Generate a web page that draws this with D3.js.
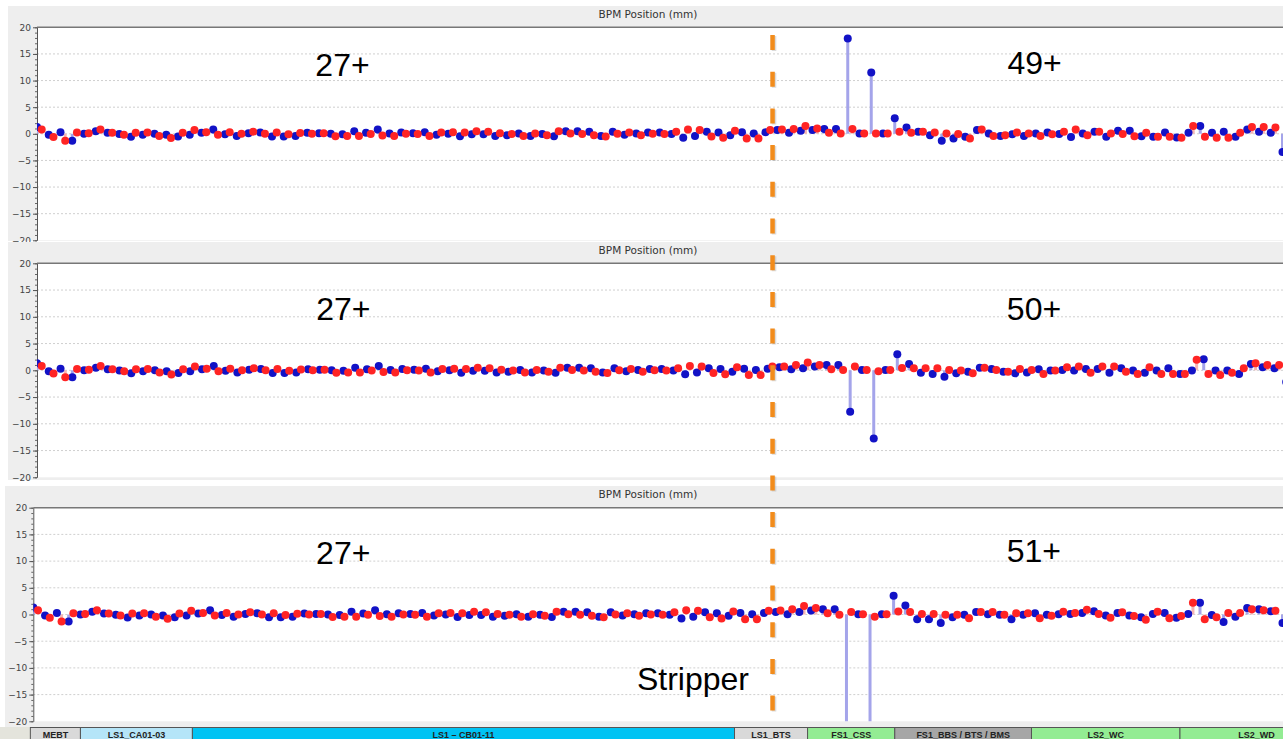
<!DOCTYPE html>
<html>
<head>
<meta charset="utf-8">
<script src="https://cdn.jsdelivr.net/npm/d3@7"></script>
<style>
  body { margin: 0; background: #fff; overflow: hidden; }
  svg { display: block; }
</style>
</head>
<body>
<div id="chart"></div>
<script>
// BPM readings, horizontal (blue) and vertical (red), in mm
// upstream of the stripper the beam is the same 27+ in all three views
const upstreamH = [1.3, -0.2, 0.3, -1.3, 0, 0.5, 0.2, -0.05, -0.55, -0.2, 0, -0.2, -0.5, -0.2, 0.2, 0.8, -0.1, -0.4, 0.1, 0.25,
  -0.5, -0.5, -0.4, 0.2, 0.1, 0, -0.1, 0.5, 0.2, 0.8, 0.05, 0.25, 0.1, 0.3, -0.2, 0, -0.45, -0.1, -0.1, -0.4,
  -0.25, 0.05, -0.4, -0.05, -0.45, 0.5, 0.5, 0.4, -0.4, 0.4, -0.2, 0.05, 0.25, 0.25, -0.05, -0.75, -0.4, 0.4, 0.25, -0.25,
  0.3, 0.05, 0.3];
const upstreamV = [0.8, -0.6, -1.3, 0.25, 0.1, 0.8, 0.2, -0.2, 0.2, 0.25, -0.4, -0.8, 0.2, 0.7, 0.3, -0.2, 0.3, 0, 0.4, 0,
  0.25, -0.1, 0.15, 0, 0.1, -0.45, -0.4, -0.4, -0.05, -0.3, -0.4, 0, -0.05, -0.4, 0.25, 0.3, 0.25, 0.5, 0.4, 0.1,
  -0.05, -0.4, 0.05, -0.25, 0.5, 0.05, -0.05, -0.25, -0.5, 0, 0.25, -0.25, 0, -0.05, 0.4, 0.8, 0.7, -0.5, -0.75, 0.55,
  -0.9, -0.9, 0.7];

// downstream of the stripper, one set per selected charge state
const q49H = [0.7, 0.2, 0.55, 0.7, 0.9, 0.9, 17.9, 0.05, 11.5, 0.05, 2.9, 1.2, 0.4, -0.25, -1.3, -0.9, -0.55, 0.7, 0.05, -0.4,
  -0.1, -0.4, 0.05, 0.25, -0.05, -0.6, 0.05, 0.4, -0.55, 0.55, 0.55, -0.45, -0.55, 0.25, -0.7, 0.2, 1.45, 0.2, 0.4, -0.55,
  0.8, 0.4, 0.2, -3.4];
const q49V = [0.8, 0.9, 1.45, 1.0, 0.2, 0.05, 0.9, 0.05, 0.05, 0.05, 0.4, 0.2, 0.4, 0.25, 0.05, -0.05, -0.9, 0.8, -0.4, -0.25,
  0.25, 0.05, -0.4, -0.1, 0.4, 0.8, -0.25, 0.4, 0.05, -0.05, -0.45, 0.2, -0.55, -0.55, -0.75, 1.45, -0.55, -0.75, -0.75, 0.2,
  1.3, 1.3, 1.2, 0.9];
const q50H = [0.55, 0.2, 0.4, 0.7, 1.0, 1.0, -7.75, 0.05, -12.75, 0.05, 3.0, 1.2, -0.45, -0.7, -1.2, -0.55, -0.25, 0.5, 0.25, -0.25,
  -0.55, -0.4, 0.2, -0.05, 0.05, -0.05, 0.25, 0.25, -0.45, 0.4, -0.05, -0.45, -0.05, 0.4, -0.7, -0.05, 2.05, -0.05, -0.05, -0.7,
  1.2, 0.55, 0.4, -2.2];
const q50V = [0.7, 1.0, 1.45, 1.0, 0.2, 0.05, 0.7, 0.05, -0.2, 0.05, 0.45, 0.4, 0.4, 0.4, 0.05, -0.05, -0.55, 0.5, 0.05, -0.25,
  0.25, 0.05, -0.7, -0.05, 0.55, 0.7, -0.45, 0.7, 0.7, -0.25, -0.7, 0.55, -0.7, -0.7, -0.7, 1.95, -0.7, -0.9, -0.45, 0.4,
  1.3, 1.0, 1.0, 0.5];
const q51H = [0.45, 0.05, 0.45, 0.75, 1.0, 1.0, -30, 0.05, -30, 0.05, 3.5, 1.7, -0.9, -0.9, -1.6, -0.5, -0.05, 0.45, 0.05, -0.05,
  -0.9, -0.05, 0.25, -0.05, 0.05, 0.1, 0.3, 0.6, -0.2, 0.3, -0.2, -0.5, 0.1, 0.3, -0.6, 0.1, 2.2, -0.1, -1.4, -0.4,
  1.2, 1.0, 0.6, -1.6];
const q51V = [0.75, 1.0, 1.6, 1.2, 0.25, -0.05, 0.45, 0.05, -0.4, 0.05, 0.55, 0.45, 0.1, 0.1, -0.05, -0.05, -0.7, 0.45, 0.45, -0.05,
  0.25, 0.25, -0.7, -0.25, 0.5, 0.3, 0.9, 0.1, -0.6, 0.4, -0.3, -1.0, 0.5, -0.7, -0.3, 2.2, -0.9, -0.5, 0.3, 0.3,
  1.0, 0.8, 0.7, 0.5];

const chargeStates = ['49+', '50+', '51+'];
const upstreamCharge = '27+';
const stripperIndex = 62.6;

const sections = ['MEBT', 'LS1_CA01-03', 'LS1 \u2013 CB01-11', 'LS1_BTS', 'FS1_CSS', 'FS1_BBS / BTS / BMS', 'LS2_WC', 'LS2_WD'];
const sectionStart = [-0.25, 4, 13.5, 59.5, 65.7, 73.1, 84.7, 97.3];
const sectionEnd = [4, 13.5, 59.5, 65.7, 73.1, 84.7, 97.3, 110];
const sectionFill = ['#d9d9d9', '#b5e5f8', '#00c3f3', '#d9d9d9', '#93ec93', '#a6a6a6', '#93ec93', '#93ec93'];

const yTicks = [-20, -15, -10, -5, 0, 5, 10, 15, 20];

const W = 1283, H = 739;
const svg = d3.select('#chart').append('svg')
  .attr('width', W)
  .attr('height', H);

const panels = [
  { h: q49H, v: q49V, bgX: 8, bgY: 6, bgH: 235, titleY: 18, top: 27.3, bottom: 240.3, left: 37, step: 11.75, labelY: 76, qY: 74, at27: 26, atQ: 84.9 },
  { h: q50H, v: q50V, bgX: 8, bgY: 242, bgH: 238, titleY: 254, top: 263.3, bottom: 477.3, left: 37, step: 11.785, labelY: 320, qY: 320, at27: 26, atQ: 84.6 },
  { h: q51H, v: q51V, bgX: 5, bgY: 486, bgH: 253, titleY: 498, top: 507.7, bottom: 721.3, left: 33.3, step: 11.785, labelY: 564, qY: 562, at27: 26.3, atQ: 84.9 }
];

const bpmCount = upstreamH.length + q49H.length;

panels.forEach((p, k) => {
  const g = svg.append('g');
  const x = d3.scaleLinear().domain([0, bpmCount - 1]).range([p.left, p.left + p.step * (bpmCount - 1)]);
  const y = d3.scaleLinear().domain([-20, 20]).range([p.bottom, p.top]);
  p.x = x;

  g.append('rect')
    .attr('x', p.bgX).attr('y', p.bgY)
    .attr('width', W - p.bgX).attr('height', p.bgH)
    .attr('fill', '#eeeeee');

  g.append('text')
    .attr('x', 648).attr('y', p.titleY)
    .attr('text-anchor', 'middle')
    .style('font-family', 'DejaVu Sans, sans-serif')
    .style('font-size', '10.5px')
    .attr('fill', '#333')
    .text('BPM Position (mm)');

  const clipId = 'clip' + k;
  g.append('clipPath').attr('id', clipId)
    .append('rect')
    .attr('x', p.left).attr('y', p.top)
    .attr('width', W - p.left).attr('height', p.bottom - p.top);

  g.append('rect')
    .attr('x', p.left).attr('y', p.top)
    .attr('width', W - p.left).attr('height', p.bottom - p.top)
    .attr('fill', '#fff');

  // dotted grid
  g.selectAll('.grid')
    .data(yTicks.filter(t => Math.abs(t) < 20))
    .enter().append('line')
    .attr('x1', p.left).attr('x2', W)
    .attr('y1', d => y(d)).attr('y2', d => y(d))
    .attr('stroke', '#cfcfcf')
    .attr('stroke-dasharray', '2,2');

  // top border
  g.append('line')
    .attr('x1', p.left).attr('x2', W)
    .attr('y1', p.top).attr('y2', p.top)
    .attr('stroke', '#777').attr('stroke-width', 1.5);

  // minor ticks
  g.append('g')
    .attr('transform', `translate(${p.left},0)`)
    .call(d3.axisLeft(y).tickValues(d3.range(-20, 21, 1)).tickSize(2).tickFormat(''))
    .call(a => a.select('.domain').remove())
    .call(a => a.selectAll('line').attr('stroke', '#666'));

  g.append('g')
    .attr('transform', `translate(${p.left},0)`)
    .call(d3.axisLeft(y).tickValues(yTicks).tickSize(4).tickSizeOuter(0).tickPadding(2))
    .call(a => a.select('.domain').attr('stroke', '#555'))
    .call(a => a.selectAll('line').attr('stroke', '#555'))
    .call(a => a.selectAll('text')
      .style('font-family', 'DejaVu Sans, sans-serif')
      .style('font-size', '9px')
      .attr('fill', '#444'));

  const hVals = upstreamH.concat(p.h);
  const vVals = upstreamV.concat(p.v);
  const hPts = hVals.map((d, i) => ({ i: i, val: d }));
  const vPts = vVals.map((d, i) => ({ i: i + 0.4, val: d }));

  const plot = g.append('g').attr('clip-path', `url(#${clipId})`);

  plot.selectAll('.stemH').data(hPts).enter().append('line')
    .attr('x1', d => x(d.i)).attr('x2', d => x(d.i))
    .attr('y1', y(0)).attr('y2', d => y(d.val))
    .attr('stroke', '#a4a4ea').attr('stroke-width', 3);
  plot.selectAll('.stemV').data(vPts).enter().append('line')
    .attr('x1', d => x(d.i)).attr('x2', d => x(d.i))
    .attr('y1', y(0)).attr('y2', d => y(d.val))
    .attr('stroke', '#f5b4b4').attr('stroke-width', 3);

  plot.selectAll('.dotH').data(hPts).enter().append('circle')
    .attr('cx', d => x(d.i)).attr('cy', d => y(d.val))
    .attr('r', 4).attr('fill', '#1212c6');
  plot.selectAll('.dotV').data(vPts).enter().append('circle')
    .attr('cx', d => x(d.i)).attr('cy', d => y(d.val))
    .attr('r', 4).attr('fill', '#ff2424');

  g.append('text')
    .attr('x', x(p.at27)).attr('y', p.labelY)
    .attr('text-anchor', 'middle')
    .style('font-family', 'Liberation Sans, Arial, sans-serif')
    .style('font-size', '32px')
    .text(upstreamCharge);
  g.append('text')
    .attr('x', x(p.atQ)).attr('y', p.qY)
    .attr('text-anchor', 'middle')
    .style('font-family', 'Liberation Sans, Arial, sans-serif')
    .style('font-size', '32px')
    .text(chargeStates[k]);
});

// section bar under the last view
const xs = panels[2].x;
svg.append('rect').attr('x', 0).attr('y', 727).attr('width', xs(sectionStart[0])).attr('height', 12).attr('fill', '#e4e4dc');
const bar = svg.append('g');
sections.forEach((name, i) => {
  const x0 = xs(sectionStart[i]), x1 = xs(sectionEnd[i]);
  bar.append('rect')
    .attr('x', x0).attr('y', 727.5)
    .attr('width', x1 - x0).attr('height', 13)
    .attr('fill', sectionFill[i])
    .attr('stroke', '#555').attr('stroke-width', 1);
  bar.append('text')
    .attr('x', (x0 + Math.min(x1, W)) / 2 + (i === sections.length - 1 ? 25 : 0))
    .attr('y', 737.5)
    .attr('text-anchor', 'middle')
    .style('font-family', 'Liberation Sans, Arial, sans-serif')
    .style('font-size', '9px')
    .style('font-weight', 'bold')
    .attr('fill', '#222')
    .text(name);
});

// stripper marker
const sx = panels[0].x(stripperIndex);
svg.append('line')
  .attr('x1', sx + 1.5).attr('x2', sx + 1.5)
  .attr('y1', 36).attr('y2', 722)
  .attr('stroke', '#999').attr('stroke-opacity', 0.35)
  .attr('stroke-width', 4.5)
  .attr('stroke-dasharray', '15,21.7');
svg.append('line')
  .attr('x1', sx).attr('x2', sx)
  .attr('y1', 35).attr('y2', 721)
  .attr('stroke', '#f28c1c')
  .attr('stroke-width', 4.5)
  .attr('stroke-dasharray', '15,21.7');

svg.append('text')
  .attr('x', 749).attr('y', 690)
  .attr('text-anchor', 'end')
  .style('font-family', 'Liberation Sans, Arial, sans-serif')
  .style('font-size', '32px')
  .text('Stripper');
</script>
</body>
</html>
